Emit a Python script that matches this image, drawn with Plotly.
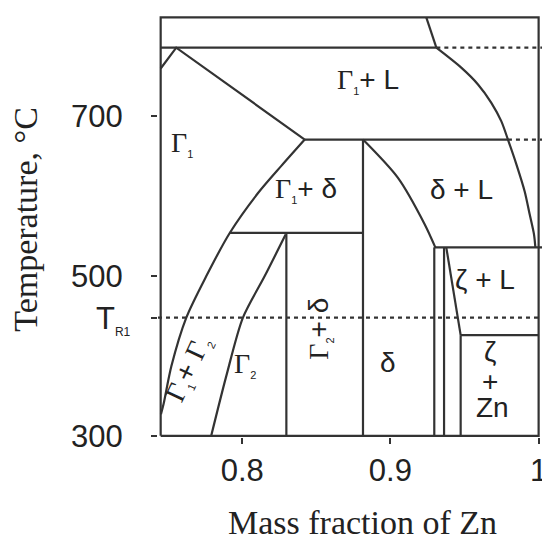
import plotly.graph_objects as go

# ---------------- data (mass fraction of Zn, temperature in °C) ----------------
frame_x = [0.745, 1.0, 1.0, 0.745, 0.745]
frame_T = [300, 300, 824, 824, 300]

liq_top_x = [0.9242, 0.931]
liq_top_T = [824, 786]
liq_x = [0.931, 0.9478, 0.9591, 0.9681, 0.9748, 0.9793, 0.985, 0.9906, 0.994, 0.9969, 0.9978]
liq_T = [786, 761, 740, 717, 694, 671, 640, 606, 577, 552, 536]

g1_liq_x = [0.745, 0.7555, 0.8422]
g1_liq_T = [760, 786, 671]

g1_solvus_x = [0.8422, 0.8264, 0.8107, 0.7916, 0.7758, 0.7623, 0.7522, 0.7470, 0.7452]
g1_solvus_T = [671, 638, 604, 554, 500, 448, 387, 340, 327]

g2_left_x = [0.8293, 0.8152, 0.8005, 0.7893, 0.7791]
g2_left_T = [552, 500, 448, 375, 300]

delta_liq_x = [0.8815, 0.9051, 0.9231, 0.9303]
delta_liq_T = [671, 623, 565, 536]

zeta_liq_x = [0.9377, 0.9474]
zeta_liq_T = [536, 426]

# isotherms: (temperature, x_start, x_end)
iso_T = [786, 671, 554, 536, 426]
iso_x0 = [0.745, 0.8422, 0.7916, 0.9296, 0.9474]
iso_x1 = [0.931, 0.9793, 0.8815, 1.004, 1.0]

# vertical phase boundaries: (x, T_top, T_bottom)
vert_x = [0.8298, 0.8815, 0.9296, 0.9362, 0.9474]
vert_T_top = [554, 671, 536, 536, 426]
vert_T_bot = [300, 300, 300, 300, 300]

# dotted isotherm extensions
dot_T = [786, 671, 448]
dot_x0 = [0.931, 0.9793, 0.7432]
dot_x1 = [1.0063, 1.0063, 1.0063]

x_tickvals = [0.8, 0.9, 1.0]
x_ticktext = ["0.8", "0.9", "1"]
y_tickvals = [300, 448, 500, 700]
y_ticktext = ["300", "", "500", "700"]

# ---------------- figure ----------------
LC = "#333333"
LW = 2.2
fig = go.Figure()

def add_line(x, y, shape="linear", dash="solid"):
    fig.add_trace(go.Scatter(x=x, y=y, mode="lines", showlegend=False,
                             hoverinfo="skip",
                             line=dict(color=LC, width=LW, shape=shape, dash=dash,
                                       smoothing=0.8 if shape == "spline" else None)))

add_line(frame_x, frame_T)
add_line(liq_top_x, liq_top_T)
add_line(liq_x, liq_T, shape="spline")
add_line(g1_liq_x, g1_liq_T)
add_line(g1_solvus_x, g1_solvus_T, shape="spline")
add_line(g2_left_x, g2_left_T, shape="spline")
add_line(delta_liq_x, delta_liq_T, shape="spline")
add_line(zeta_liq_x, zeta_liq_T)
for T, a, b in zip(iso_T, iso_x0, iso_x1):
    add_line([a, b], [T, T])
for x, t0, t1 in zip(vert_x, vert_T_top, vert_T_bot):
    add_line([x, x], [t0, t1])
for T, a, b in zip(dot_T, dot_x0, dot_x1):
    add_line([a, b], [T, T], dash="4px,4px")

SERIF_G = "<span style='font-family:Liberation Serif'>Γ</span>"
def sub(s):
    return "<sub><span style='font-size:11px'>" + s + "</span></sub>"

lab_font = dict(family="Liberation Sans, Arial", size=28, color="#222222")
labels = [
    (0.7596, 666, SERIF_G + sub("1"), 0),
    (0.8850, 745, SERIF_G + sub("1") + "+ L", 0),
    (0.8430, 608, SERIF_G + sub("1") + "+ δ", 0),
    (0.9481, 608, "δ + L", 0),
    (0.9635, 496, "ζ + L", 0),
    (0.9670, 405, "ζ", 0),
    (0.9670, 368, "+", 0),
    (0.9690, 335, "Zn", 0),
    (0.8981, 392, "δ", 0),
    (0.8016, 389, SERIF_G + sub("2"), 0),
    (0.8525, 434, SERIF_G + sub("2") + "+ δ", -90),
    (0.7640, 384, SERIF_G + sub("1") + "+ " + SERIF_G + sub("2"), -65),
]
for x, y, t, ang in labels:
    fig.add_annotation(x=x, y=y, xref="x", yref="y", text=t, showarrow=False,
                       textangle=ang, font=lab_font, xanchor="center", yanchor="middle")

# T_R1 label
fig.add_annotation(x=-0.063, y=445, xref="paper", yref="y",
                   text="T<sub><span style='font-size:12px'>R1</span></sub>",
                   showarrow=False, xanchor="right", yanchor="middle",
                   font=dict(family="Liberation Sans, Arial", size=31, color="#222222"))

title_font = dict(family="Liberation Serif, Times New Roman", size=34, color="#222222")
fig.add_annotation(x=0.524, y=-0.204, xref="paper", yref="paper",
                   text="Mass fraction of Zn", showarrow=False,
                   xanchor="center", yanchor="middle", font=title_font)
fig.add_annotation(x=-0.338, y=0.518, xref="paper", yref="paper",
                   text="Temperature, °C", showarrow=False, textangle=-90,
                   xanchor="center", yanchor="middle", font=title_font)

tick_font = dict(family="Liberation Sans, Arial", size=31, color="#222222")
fig.update_xaxes(range=[0.7432, 1.007], showline=False, showgrid=False, zeroline=False,
                 tickvals=x_tickvals, ticktext=x_ticktext, ticks="outside",
                 ticklen=6, tickwidth=2, tickcolor=LC, tickfont=tick_font,
                 ticklabelstandoff=0)
fig.update_yaxes(range=[298.5, 825.7], showline=False, showgrid=False, zeroline=False,
                 tickvals=y_tickvals, ticktext=y_ticktext, ticks="outside",
                 ticklen=6, tickwidth=2, tickcolor=LC, tickfont=tick_font,
                 ticklabelstandoff=22)
fig.update_layout(width=550, height=542, margin=dict(l=150, r=9, t=8, b=113),
                  plot_bgcolor="white", paper_bgcolor="white")

fig.write_html("out.html")
